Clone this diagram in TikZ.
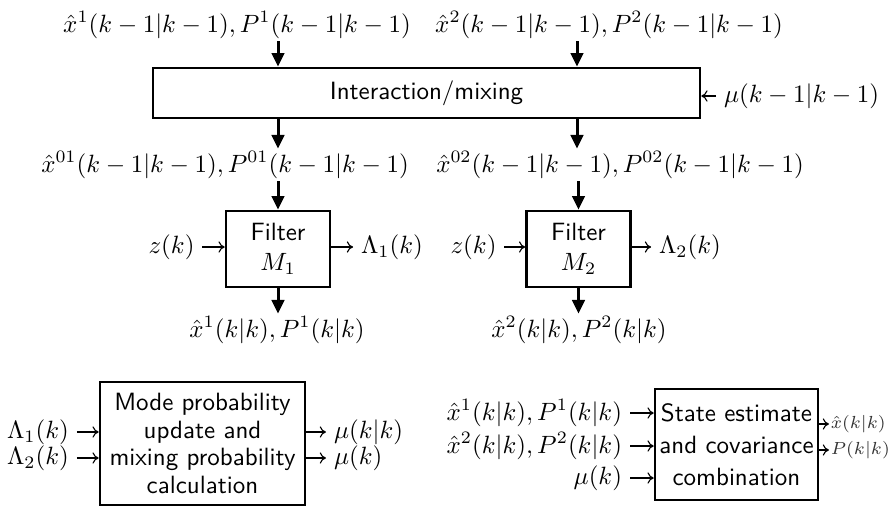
\documentclass[tikz,border=0pt]{standalone}
\usetikzlibrary{arrows.meta}
\begin{document}
\begin{tikzpicture}[x=0.4pt,y=-0.4pt,
  lbl/.style={inner sep=1pt},
  hl/.style={inner sep=3pt},
  blk/.style={draw,line width=1pt,font=\sffamily,align=center,inner sep=0pt},
  barrow/.style={line width=1.2pt,-{Triangle[length=5.5pt,width=5pt]}},
  sarrow/.style={line width=0.45pt,-{To[length=2.5pt,width=4.5pt]}},
  smallout/.style={inner sep=0.5pt,anchor=west,font=\fontsize{7}{8.5}\selectfont,text=black!80}
]
\useasboundingbox (0,0) rectangle (888,507);

% top inputs
\node[lbl] (in1) at (237,25) {$\hat{x}^1(k-1|k-1), P^1(k-1|k-1)$};
\node[lbl] (in2) at (609,25) {$\hat{x}^2(k-1|k-1), P^2(k-1|k-1)$};
\node[blk,minimum width=218.8pt,minimum height=20pt] (mix) at (426.5,93) {Interaction/mixing};
\node[hl,anchor=west] (mu1) at (716,96) {$\mu(k-1|k-1)$};
\coordinate (c1) at (278,0);
\coordinate (c2) at (577,0);
\draw[barrow] (in1.south -| c1) -- (mix.north -| c1);
\draw[barrow] (in2.south -| c2) -- (mix.north -| c2);
\draw[sarrow] (mu1.west) -- (mix.east |- mu1);

% mixed estimates
\node[lbl] (mid1) at (225,165) {$\hat{x}^{01}(k-1|k-1), P^{01}(k-1|k-1)$};
\node[lbl] (mid2) at (620,165) {$\hat{x}^{02}(k-1|k-1), P^{02}(k-1|k-1)$};
\draw[barrow] (mix.south -| c1) -- (mid1.north -| c1);
\draw[barrow] (mix.south -| c2) -- (mid2.north -| c2);

% filters
\node[blk,minimum width=41.6pt,minimum height=30.4pt] (f1) at (278,249) {Filter\\$M_1$};
\node[blk,minimum width=41.6pt,minimum height=30.4pt] (f2) at (578.5,249) {Filter\\$M_2$};
\draw[barrow] (mid1.south -| f1) -- (f1.north);
\draw[barrow] (mid2.south -| f2) -- (f2.north);

\node[hl] (z1) at (171.5,247) {$z(k)$};
\node[hl] (L1) at (392,247) {$\Lambda_1(k)$};
\node[hl] (z2) at (473.5,247) {$z(k)$};
\node[hl] (L2) at (690,247) {$\Lambda_2(k)$};
\draw[sarrow] (z1.east) -- (f1.west |- z1);
\draw[sarrow] (f1.east |- L1) -- (L1.west);
\draw[sarrow] (z2.east) -- (f2.west |- z2);
\draw[sarrow] (f2.east |- L2) -- (L2.west);

\node[lbl] (out1) at (277,330) {$\hat{x}^1(k|k), P^1(k|k)$};
\node[lbl] (out2) at (579,330) {$\hat{x}^2(k|k), P^2(k|k)$};
\draw[barrow] (f1.south) -- (out1.north -| f1);
\draw[barrow] (f2.south) -- (out2.north -| f2);

% mode probability
\node[blk,minimum width=82pt,minimum height=49.2pt,font=\sffamily\fontsize{10}{11}\selectfont] (mode) at (202.5,443.5)
  {Mode probability\\update and\\mixing probability\\calculation};
\node[hl] (La1) at (38,432) {$\Lambda_1(k)$};
\node[hl] (La2) at (38,458) {$\Lambda_2(k)$};
\node[hl,anchor=west] (m1) at (326,432) {$\mu(k|k)$};
\node[hl,anchor=west] (m2) at (326,458) {$\mu(k)$};
\draw[sarrow] (La1.east) -- (mode.west |- La1);
\draw[sarrow] (La2.east) -- (mode.west |- La2);
\draw[sarrow] (mode.east |- m1) -- (m1.west);
\draw[sarrow] (mode.east |- m2) -- (m2.west);

% combination
\node[blk,minimum width=65.2pt,minimum height=44.4pt,font=\sffamily\fontsize{10}{12.8}\selectfont] (comb) at (736.5,444.5)
  {State estimate\\and covariance\\combination};
\node[hl,anchor=east] (s1) at (630,413) {$\hat{x}^1(k|k), P^1(k|k)$};
\node[hl,anchor=east] (s2) at (630,446) {$\hat{x}^2(k|k), P^2(k|k)$};
\node[hl,anchor=east] (s3) at (630,478) {$\mu(k)$};
\draw[sarrow] (s1.east) -- (comb.west |- s1);
\draw[sarrow] (s2.east) -- (comb.west |- s2);
\draw[sarrow] (s3.east) -- (comb.west |- s3);
\node[smallout] (xo) at (829,424) {$\hat{x}(k|k)$};
\node[smallout] (po) at (829,450) {$P(k|k)$};
\draw[sarrow] (comb.east |- xo) -- (xo.west);
\draw[sarrow] (comb.east |- po) -- (po.west);
\end{tikzpicture}
\end{document}
